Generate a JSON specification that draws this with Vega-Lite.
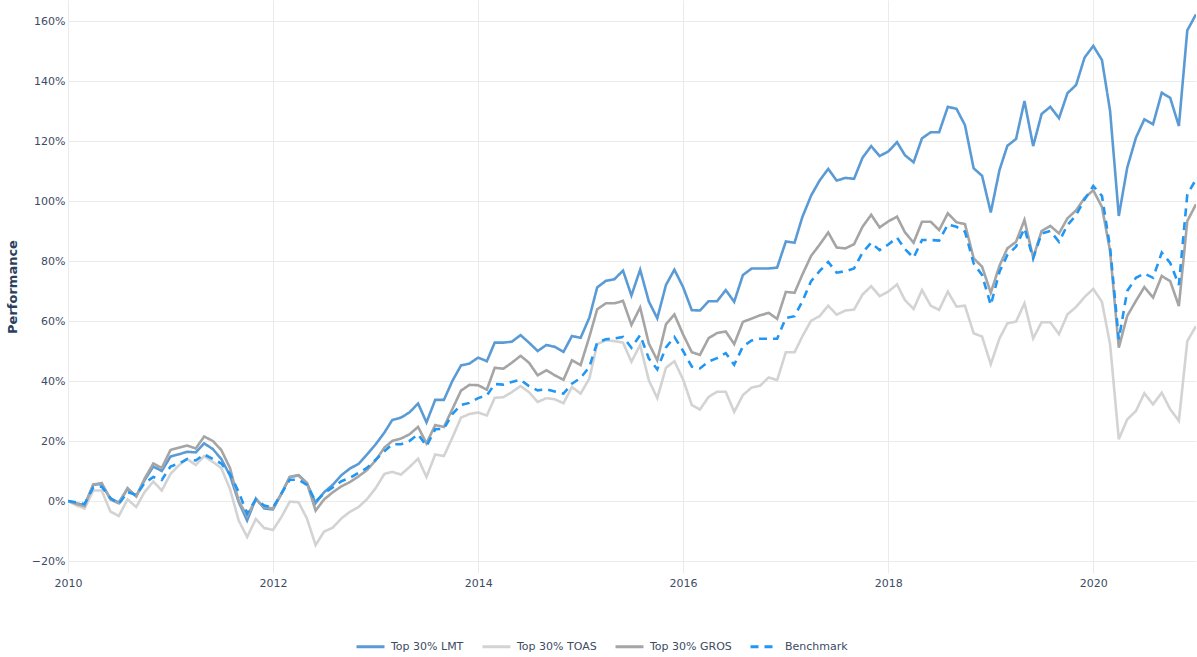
{
  "$schema": "https://vega.github.io/schema/vega-lite/v6.json",
  "autosize": {"type": "none"},
  "padding": {"left": 68, "top": 0, "right": 1, "bottom": 84},
  "width": 1128,
  "height": 573,
  "background": "white",
  "config": {
    "view": {"stroke": null},
    "font": "DejaVu Sans",
    "axis": {"labelFont": "DejaVu Sans", "labelFontSize": 11, "labelColor": "#3d4b63", "gridColor": "#ebebeb", "gridWidth": 1, "domain": false, "ticks": false}
  },
  "data": {"values": [
    {"d":"2010/01/01","LMT":0,"TOAS":0,"GROS":0,"Benchmark":0},
    {"d":"2010/02/01","LMT":-0.8,"TOAS":-1.5,"GROS":-1,"Benchmark":-0.5},
    {"d":"2010/03/01","LMT":-1.4,"TOAS":-2.5,"GROS":-1.7,"Benchmark":-1},
    {"d":"2010/04/01","LMT":5.4,"TOAS":3.5,"GROS":5.5,"Benchmark":4.5},
    {"d":"2010/05/01","LMT":5.7,"TOAS":3.5,"GROS":6,"Benchmark":4.8},
    {"d":"2010/06/01","LMT":0.8,"TOAS":-3.5,"GROS":0.5,"Benchmark":1},
    {"d":"2010/07/01","LMT":-0.5,"TOAS":-5,"GROS":-0.8,"Benchmark":-1},
    {"d":"2010/08/01","LMT":4,"TOAS":0.5,"GROS":4.3,"Benchmark":3},
    {"d":"2010/09/01","LMT":1.6,"TOAS":-2,"GROS":1.5,"Benchmark":2},
    {"d":"2010/10/01","LMT":7,"TOAS":3,"GROS":7.5,"Benchmark":6},
    {"d":"2010/11/01","LMT":11.5,"TOAS":6.5,"GROS":12.5,"Benchmark":8},
    {"d":"2010/12/01","LMT":10,"TOAS":3.5,"GROS":11,"Benchmark":7},
    {"d":"2011/01/01","LMT":14.8,"TOAS":9,"GROS":17,"Benchmark":11.5},
    {"d":"2011/02/01","LMT":15.6,"TOAS":12,"GROS":17.8,"Benchmark":12.5},
    {"d":"2011/03/01","LMT":16.4,"TOAS":14,"GROS":18.5,"Benchmark":14},
    {"d":"2011/04/01","LMT":16.2,"TOAS":12,"GROS":17.5,"Benchmark":13.5},
    {"d":"2011/05/01","LMT":19.2,"TOAS":15,"GROS":21.5,"Benchmark":15.5},
    {"d":"2011/06/01","LMT":17.3,"TOAS":13,"GROS":20,"Benchmark":14},
    {"d":"2011/07/01","LMT":14,"TOAS":11,"GROS":17,"Benchmark":12.5},
    {"d":"2011/08/01","LMT":8.5,"TOAS":4,"GROS":11,"Benchmark":9},
    {"d":"2011/09/01","LMT":-0.3,"TOAS":-6.5,"GROS":0,"Benchmark":3},
    {"d":"2011/10/01","LMT":-6.5,"TOAS":-12,"GROS":-5,"Benchmark":-4.2},
    {"d":"2011/11/01","LMT":0.8,"TOAS":-6,"GROS":0.5,"Benchmark":0.5},
    {"d":"2011/12/01","LMT":-2.5,"TOAS":-9,"GROS":-2,"Benchmark":-1.5},
    {"d":"2012/01/01","LMT":-2.8,"TOAS":-9.7,"GROS":-2.5,"Benchmark":-2.2},
    {"d":"2012/02/01","LMT":2.6,"TOAS":-5.2,"GROS":2.5,"Benchmark":2.6},
    {"d":"2012/03/01","LMT":8,"TOAS":-0.2,"GROS":8,"Benchmark":7.1},
    {"d":"2012/04/01","LMT":8.6,"TOAS":-0.4,"GROS":8.5,"Benchmark":7.1},
    {"d":"2012/05/01","LMT":6,"TOAS":-5.8,"GROS":6,"Benchmark":5.4},
    {"d":"2012/06/01","LMT":-0.7,"TOAS":-14.7,"GROS":-3.2,"Benchmark":-0.2},
    {"d":"2012/07/01","LMT":2.9,"TOAS":-10.2,"GROS":0.5,"Benchmark":2.6},
    {"d":"2012/08/01","LMT":5.4,"TOAS":-8.9,"GROS":2.9,"Benchmark":4.5},
    {"d":"2012/09/01","LMT":8.6,"TOAS":-5.8,"GROS":4.9,"Benchmark":6.6},
    {"d":"2012/10/01","LMT":10.8,"TOAS":-3.6,"GROS":6.3,"Benchmark":7.7},
    {"d":"2012/11/01","LMT":12.4,"TOAS":-2,"GROS":8.2,"Benchmark":9.4},
    {"d":"2012/12/01","LMT":15.5,"TOAS":0.6,"GROS":10.3,"Benchmark":11},
    {"d":"2013/01/01","LMT":18.9,"TOAS":4.3,"GROS":13.5,"Benchmark":13.8},
    {"d":"2013/02/01","LMT":22.8,"TOAS":9,"GROS":17.8,"Benchmark":16.6},
    {"d":"2013/03/01","LMT":27,"TOAS":9.7,"GROS":20,"Benchmark":18.9},
    {"d":"2013/04/01","LMT":27.8,"TOAS":8.8,"GROS":20.8,"Benchmark":18.9},
    {"d":"2013/05/01","LMT":29.5,"TOAS":11.3,"GROS":22.2,"Benchmark":20},
    {"d":"2013/06/01","LMT":32.5,"TOAS":14.1,"GROS":24.7,"Benchmark":22.2},
    {"d":"2013/07/01","LMT":26.2,"TOAS":8,"GROS":19.2,"Benchmark":18.3},
    {"d":"2013/08/01","LMT":33.7,"TOAS":15.5,"GROS":25.3,"Benchmark":23.9},
    {"d":"2013/09/01","LMT":33.7,"TOAS":15,"GROS":24.7,"Benchmark":24.1},
    {"d":"2013/10/01","LMT":40,"TOAS":21.1,"GROS":30.6,"Benchmark":29},
    {"d":"2013/11/01","LMT":45.2,"TOAS":27.8,"GROS":36.8,"Benchmark":32},
    {"d":"2013/12/01","LMT":45.8,"TOAS":29,"GROS":38.7,"Benchmark":32.7},
    {"d":"2014/01/01","LMT":47.8,"TOAS":29.5,"GROS":38.6,"Benchmark":34.3},
    {"d":"2014/02/01","LMT":46.6,"TOAS":28.5,"GROS":37.1,"Benchmark":35.2},
    {"d":"2014/03/01","LMT":52.8,"TOAS":34.4,"GROS":44.4,"Benchmark":39},
    {"d":"2014/04/01","LMT":52.8,"TOAS":34.6,"GROS":44.1,"Benchmark":38.8},
    {"d":"2014/05/01","LMT":53.1,"TOAS":36.3,"GROS":46.1,"Benchmark":39.7},
    {"d":"2014/06/01","LMT":55.3,"TOAS":38.3,"GROS":48.4,"Benchmark":40.4},
    {"d":"2014/07/01","LMT":52.8,"TOAS":36.3,"GROS":46.1,"Benchmark":38.3},
    {"d":"2014/08/01","LMT":50,"TOAS":33,"GROS":41.9,"Benchmark":36.9},
    {"d":"2014/09/01","LMT":52,"TOAS":34.3,"GROS":43.6,"Benchmark":37.2},
    {"d":"2014/10/01","LMT":51.4,"TOAS":33.9,"GROS":41.9,"Benchmark":36.5},
    {"d":"2014/11/01","LMT":49.7,"TOAS":32.6,"GROS":40.4,"Benchmark":35.8},
    {"d":"2014/12/01","LMT":55,"TOAS":38,"GROS":46.9,"Benchmark":39.1},
    {"d":"2015/01/01","LMT":54.4,"TOAS":35.8,"GROS":45.3,"Benchmark":41},
    {"d":"2015/02/01","LMT":61.1,"TOAS":40.8,"GROS":54.7,"Benchmark":44.7},
    {"d":"2015/03/01","LMT":71.2,"TOAS":52.3,"GROS":63.9,"Benchmark":52.8},
    {"d":"2015/04/01","LMT":73.4,"TOAS":53.6,"GROS":65.9,"Benchmark":53.9},
    {"d":"2015/05/01","LMT":73.9,"TOAS":53.3,"GROS":65.9,"Benchmark":54.2},
    {"d":"2015/06/01","LMT":76.8,"TOAS":52.8,"GROS":66.7,"Benchmark":54.7},
    {"d":"2015/07/01","LMT":68.5,"TOAS":46.4,"GROS":58.7,"Benchmark":51.1},
    {"d":"2015/08/01","LMT":77.1,"TOAS":52,"GROS":64.5,"Benchmark":55.3},
    {"d":"2015/09/01","LMT":66.5,"TOAS":40.2,"GROS":52.5,"Benchmark":47.5},
    {"d":"2015/10/01","LMT":60.9,"TOAS":34.3,"GROS":46.9,"Benchmark":43.9},
    {"d":"2015/11/01","LMT":72,"TOAS":44.4,"GROS":58.9,"Benchmark":51.2},
    {"d":"2015/12/01","LMT":77.1,"TOAS":46.6,"GROS":62.2,"Benchmark":54.7},
    {"d":"2016/01/01","LMT":71.3,"TOAS":40.5,"GROS":55.5,"Benchmark":50},
    {"d":"2016/02/01","LMT":63.6,"TOAS":32,"GROS":49.6,"Benchmark":44.8},
    {"d":"2016/03/01","LMT":63.5,"TOAS":30.5,"GROS":48.7,"Benchmark":44.2},
    {"d":"2016/04/01","LMT":66.6,"TOAS":34.7,"GROS":54.3,"Benchmark":46.5},
    {"d":"2016/05/01","LMT":66.6,"TOAS":36.4,"GROS":56,"Benchmark":47.6},
    {"d":"2016/06/01","LMT":70.3,"TOAS":36.4,"GROS":56.5,"Benchmark":49.3},
    {"d":"2016/07/01","LMT":66.4,"TOAS":29.7,"GROS":52.3,"Benchmark":45.4},
    {"d":"2016/08/01","LMT":75.3,"TOAS":35.3,"GROS":59.7,"Benchmark":51.5},
    {"d":"2016/09/01","LMT":77.5,"TOAS":37.8,"GROS":60.8,"Benchmark":53.5},
    {"d":"2016/10/01","LMT":77.5,"TOAS":38.4,"GROS":61.9,"Benchmark":54.1},
    {"d":"2016/11/01","LMT":77.5,"TOAS":41.2,"GROS":62.7,"Benchmark":54.1},
    {"d":"2016/12/01","LMT":77.8,"TOAS":40.3,"GROS":60.7,"Benchmark":54.1},
    {"d":"2017/01/01","LMT":86.5,"TOAS":49.6,"GROS":69.7,"Benchmark":61},
    {"d":"2017/02/01","LMT":86.1,"TOAS":49.6,"GROS":69.4,"Benchmark":61.6},
    {"d":"2017/03/01","LMT":94.7,"TOAS":54.9,"GROS":75.5,"Benchmark":66.6},
    {"d":"2017/04/01","LMT":101.8,"TOAS":60.1,"GROS":81.7,"Benchmark":73.3},
    {"d":"2017/05/01","LMT":106.8,"TOAS":61.6,"GROS":85.4,"Benchmark":76.6},
    {"d":"2017/06/01","LMT":110.7,"TOAS":65.1,"GROS":89.5,"Benchmark":79.7},
    {"d":"2017/07/01","LMT":106.8,"TOAS":62.1,"GROS":84.5,"Benchmark":76.1},
    {"d":"2017/08/01","LMT":107.7,"TOAS":63.5,"GROS":84.2,"Benchmark":76.6},
    {"d":"2017/09/01","LMT":107.4,"TOAS":63.8,"GROS":85.6,"Benchmark":77.5},
    {"d":"2017/10/01","LMT":114.4,"TOAS":68.8,"GROS":91.4,"Benchmark":82.8},
    {"d":"2017/11/01","LMT":118.3,"TOAS":71.6,"GROS":95.4,"Benchmark":86.1},
    {"d":"2017/12/01","LMT":115,"TOAS":68.3,"GROS":91.2,"Benchmark":83.6},
    {"d":"2018/01/01","LMT":116.5,"TOAS":69.8,"GROS":93.2,"Benchmark":85.5},
    {"d":"2018/02/01","LMT":119.6,"TOAS":72.2,"GROS":94.8,"Benchmark":87.8},
    {"d":"2018/03/01","LMT":115.3,"TOAS":67,"GROS":89.6,"Benchmark":84},
    {"d":"2018/04/01","LMT":112.9,"TOAS":64,"GROS":86.1,"Benchmark":81.1},
    {"d":"2018/05/01","LMT":120.9,"TOAS":70.3,"GROS":93.1,"Benchmark":87},
    {"d":"2018/06/01","LMT":122.9,"TOAS":65.1,"GROS":93.1,"Benchmark":87},
    {"d":"2018/07/01","LMT":122.9,"TOAS":63.7,"GROS":90.3,"Benchmark":86.8},
    {"d":"2018/08/01","LMT":131.4,"TOAS":69.8,"GROS":95.9,"Benchmark":92.2},
    {"d":"2018/09/01","LMT":130.7,"TOAS":64.8,"GROS":92.9,"Benchmark":91.4},
    {"d":"2018/10/01","LMT":125.3,"TOAS":65.1,"GROS":92.3,"Benchmark":89.8},
    {"d":"2018/11/01","LMT":110.9,"TOAS":55.9,"GROS":80.9,"Benchmark":79.2},
    {"d":"2018/12/01","LMT":108.4,"TOAS":54.8,"GROS":78.1,"Benchmark":75.3},
    {"d":"2019/01/01","LMT":96.2,"TOAS":45.6,"GROS":69.4,"Benchmark":65.3},
    {"d":"2019/02/01","LMT":110.3,"TOAS":54.2,"GROS":78.4,"Benchmark":76.4},
    {"d":"2019/03/01","LMT":118.4,"TOAS":59.2,"GROS":84.2,"Benchmark":82},
    {"d":"2019/04/01","LMT":120.7,"TOAS":59.8,"GROS":86.4,"Benchmark":84.8},
    {"d":"2019/05/01","LMT":133.3,"TOAS":65.9,"GROS":93.7,"Benchmark":90.9},
    {"d":"2019/06/01","LMT":118.3,"TOAS":54.2,"GROS":81.1,"Benchmark":80.9},
    {"d":"2019/07/01","LMT":129,"TOAS":59.6,"GROS":90,"Benchmark":89.2},
    {"d":"2019/08/01","LMT":131.4,"TOAS":59.6,"GROS":91.7,"Benchmark":90},
    {"d":"2019/09/01","LMT":127.6,"TOAS":55.6,"GROS":89.2,"Benchmark":86.4},
    {"d":"2019/10/01","LMT":135.9,"TOAS":62.2,"GROS":94.2,"Benchmark":92},
    {"d":"2019/11/01","LMT":138.7,"TOAS":64.7,"GROS":96.9,"Benchmark":95.3},
    {"d":"2019/12/01","LMT":147.8,"TOAS":68,"GROS":101,"Benchmark":100.5},
    {"d":"2020/01/01","LMT":151.7,"TOAS":70.7,"GROS":103.6,"Benchmark":105},
    {"d":"2020/02/01","LMT":147,"TOAS":66.4,"GROS":98,"Benchmark":101.7},
    {"d":"2020/03/01","LMT":130,"TOAS":52.2,"GROS":83.3,"Benchmark":84.4},
    {"d":"2020/04/01","LMT":95,"TOAS":20.6,"GROS":51.1,"Benchmark":53.9},
    {"d":"2020/05/01","LMT":111.1,"TOAS":27.2,"GROS":61.7,"Benchmark":70},
    {"d":"2020/06/01","LMT":121.1,"TOAS":30,"GROS":66.7,"Benchmark":74.4},
    {"d":"2020/07/01","LMT":127.2,"TOAS":35.9,"GROS":71.3,"Benchmark":75.8},
    {"d":"2020/08/01","LMT":125.6,"TOAS":32.2,"GROS":67.8,"Benchmark":74.4},
    {"d":"2020/09/01","LMT":136.1,"TOAS":36.1,"GROS":75,"Benchmark":82.8},
    {"d":"2020/10/01","LMT":134.4,"TOAS":30.6,"GROS":73.3,"Benchmark":79.4},
    {"d":"2020/11/01","LMT":125,"TOAS":26.7,"GROS":65,"Benchmark":72},
    {"d":"2020/12/01","LMT":156.9,"TOAS":53.3,"GROS":93.3,"Benchmark":102.2},
    {"d":"2021/01/01","LMT":162.2,"TOAS":58.3,"GROS":98.9,"Benchmark":107.2}
  ]},
  "transform": [
    {"fold": ["LMT", "TOAS", "GROS", "Benchmark"], "as": ["series", "perf"]}
  ],
  "mark": {"type": "line", "strokeWidth": 2.6, "clip": true},
  "encoding": {
    "x": {
      "field": "d", "type": "temporal",
      "scale": {"domain": [{"year": 2010, "month": 1, "date": 1}, {"year": 2021, "month": 1, "date": 1}], "nice": false},
      "axis": {
        "title": null,
        "values": [{"year": 2010}, {"year": 2012}, {"year": 2014}, {"year": 2016}, {"year": 2018}, {"year": 2020}],
        "format": "%Y",
        "labelPadding": 4,
        "labelAlign": "center"
      }
    },
    "y": {
      "field": "perf", "type": "quantitative",
      "scale": {"domain": [-24, 167], "nice": false, "zero": false},
      "axis": {
        "title": "Performance",
        "titleFont": "DejaVu Sans",
        "titleFontSize": 13,
        "titleFontWeight": "bold",
        "titleColor": "#2a3f5f",
        "titleX": -56,
        "titleBaseline": "middle",
        "values": [-20, 0, 20, 40, 60, 80, 100, 120, 140, 160],
        "labelExpr": "format(datum.value, 'd') + '%'",
        "labelPadding": 3
      }
    },
    "color": {
      "field": "series", "type": "nominal",
      "scale": {"domain": ["LMT", "TOAS", "GROS", "Benchmark"], "range": ["#5b9bd5", "#d3d3d3", "#a5a5a5", "#2196f3"]},
      "legend": {
        "title": null,
        "orient": "none",
        "direction": "horizontal",
        "legendX": 287,
        "legendY": 631,
        "symbolType": "stroke",
        "symbolSize": 784,
        "symbolStrokeWidth": 3,
        "labelFont": "DejaVu Sans",
        "labelFontSize": 11,
        "labelColor": "#3d4b63",
        "labelOffset": 5,
        "columnPadding": 12,
        "labelExpr": "datum.label == 'Benchmark' ? 'Benchmark' : 'Top 30% ' + datum.label"
      }
    },
    "strokeDash": {
      "field": "series", "type": "nominal",
      "scale": {"domain": ["LMT", "TOAS", "GROS", "Benchmark"], "range": [[1, 0], [1, 0], [1, 0], [8, 6]]},
      "legend": null
    }
  }
}
